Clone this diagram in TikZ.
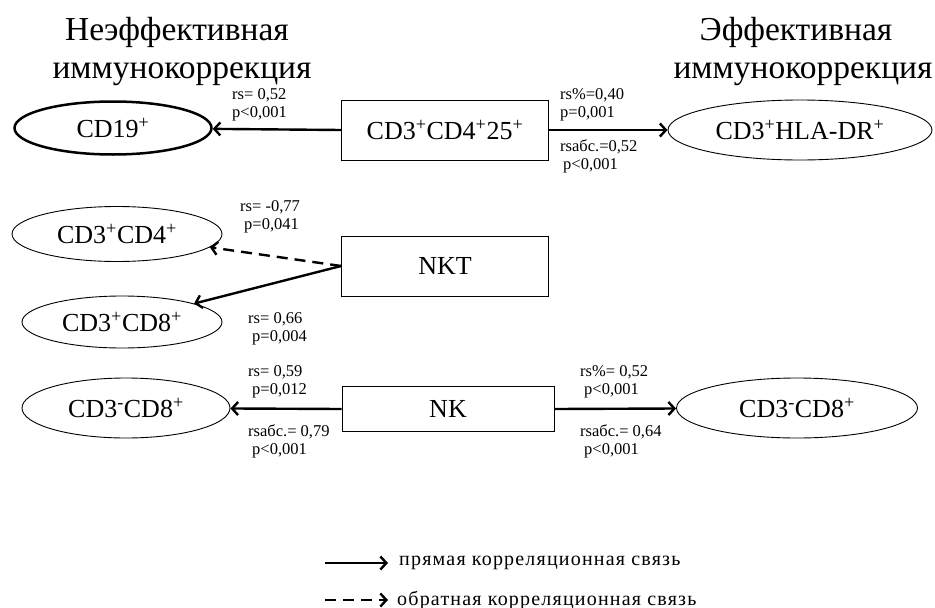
\documentclass[tikz,border=0pt]{standalone}
\usepackage{fontspec}
\setmainfont{Liberation Serif}
\newfontfamily\legfont[LetterSpace=6]{Liberation Serif}
\usetikzlibrary{arrows.meta,shapes.geometric}
\begin{document}
\begin{tikzpicture}[x=1pt,y=-1pt,
  box/.style={draw,line width=0.9pt,minimum width=207pt,minimum height=60pt,inner sep=0pt,font=\fontsize{26}{30}\selectfont},
  oval/.style={draw,ellipse,line width=0.9pt,inner sep=0pt,font=\fontsize{26}{30}\selectfont},
  conn/.style={line width=2.4pt,-{Straight Barb[length=6pt,width=13pt,line width=2.4pt]}},
  dconn/.style={conn,dash pattern=on 11pt off 7pt},
  lab/.style={font=\fontsize{16.5}{18.5}\selectfont,align=left,inner sep=0pt,anchor=north west},
  ttl/.style={font=\fontsize{33.5}{38}\selectfont,inner sep=0pt,anchor=base},
  leg/.style={font=\fontsize{20}{24}\legfont,inner sep=0pt,anchor=west}]
\useasboundingbox (0,0) rectangle (935,608);
% titles
\node[ttl] (tl1) at (177,40) {Неэффективная};
\node[ttl] (tl2) at (182,78) {иммунокоррекция};
\node[ttl] (tr1) at (796,40) {Эффективная};
\node[ttl] (tr2) at (803,78) {иммунокоррекция};
% row 1
\node[box] (b1) at (445,130) {CD3\textsuperscript{+}CD4\textsuperscript{+}25\textsuperscript{+}};
\node[oval,line width=2.5pt,minimum width=197pt,minimum height=53pt] (e1) at (113,128) {CD19\textsuperscript{+}};
\node[oval,minimum width=264pt,minimum height=60pt] (e2) at (800,130) {CD3\textsuperscript{+}HLA-DR\textsuperscript{+}};
\draw[conn] (b1.west) -- (e1);
\draw[conn] (b1.east) -- (e2);
\node[lab] (l1) at (232,88) {rs= 0,52\\p<0,001};
\node[lab] (l2) at (560,88) {rs\%=0,40\\p=0,001};
\node[lab] (l3) at (560,139) {rsабс.=0,52\\\hspace*{3pt}p<0,001};
% row 2
\node[box] (b2) at (445,266) {NKT};
\node[oval,minimum width=210pt,minimum height=55pt] (e3) at (117,234) {CD3\textsuperscript{+}CD4\textsuperscript{+}};
\node[oval,minimum width=200pt,minimum height=52pt] (e4) at (122,322) {CD3\textsuperscript{+}CD8\textsuperscript{+}};
\draw[dconn] (b2.west) -- (e3);
\draw[conn] (b2.west) -- (e4);
\node[lab] (l4) at (240,200) {rs= -0,77\\\hspace*{4pt}p=0,041};
\node[lab] (l5) at (248,312) {rs= 0,66\\\hspace*{4pt}p=0,004};
% row 3
\node[box,minimum width=212pt,minimum height=45pt] (b3) at (448,409) {NK};
\node[oval,minimum width=208pt,minimum height=60pt] (e5) at (126,408) {CD3\textsuperscript{-}CD8\textsuperscript{+}};
\node[oval,minimum width=241pt,minimum height=60pt] (e6) at (797,408) {CD3\textsuperscript{-}CD8\textsuperscript{+}};
\draw[conn] (b3.west) -- (e5);
\draw[conn] (b3.east) -- (e6);
\node[lab] (l6) at (248,365) {rs= 0,59\\\hspace*{4pt}p=0,012};
\node[lab] (l7) at (248,424) {rsабс.= 0,79\\\hspace*{4pt}p<0,001};
\node[lab] (l8) at (580,365) {rs\%= 0,52\\\hspace*{4pt}p<0,001};
\node[lab] (l9) at (580,424) {rsабс.= 0,64\\\hspace*{4pt}p<0,001};
% legend
\coordinate (ls1) at (325,563);
\coordinate (le1) at (388,563);
\coordinate (ls2) at (325,600);
\coordinate (le2) at (388,600);
\draw[conn,line width=2pt] (ls1) -- (le1);
\draw[dconn,line width=2pt,dash pattern=on 11pt off 7pt] (ls2) -- (le2);
\node[leg] (g1) at (399,563) {прямая корреляционная связь};
\node[leg] (g2) at (397,600) {обратная корреляционная связь};
\end{tikzpicture}
\end{document}
